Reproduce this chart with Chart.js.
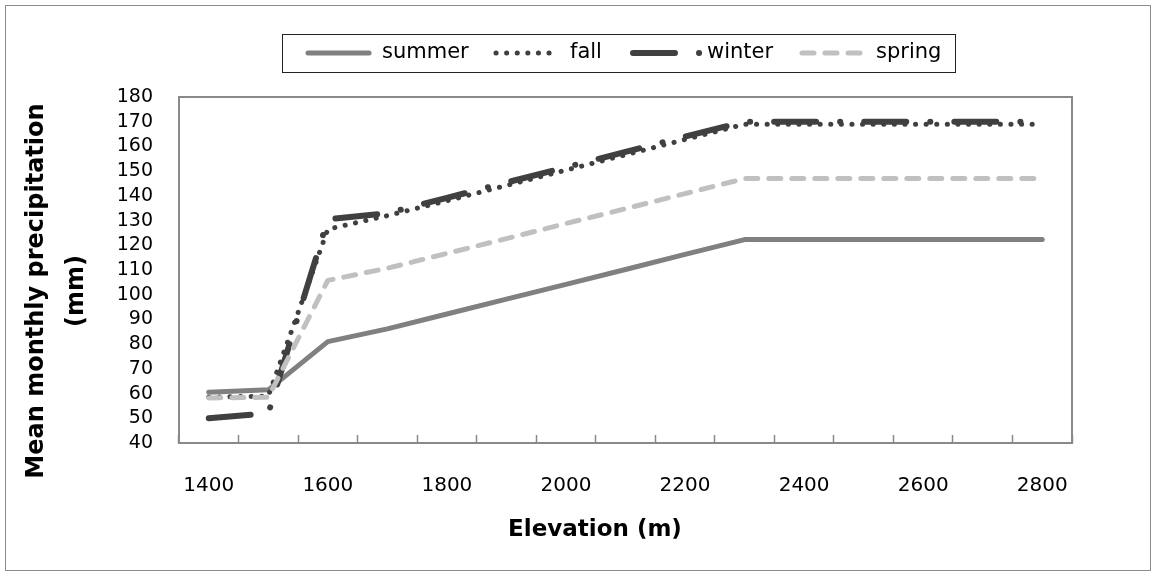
<!DOCTYPE html>
<html>
<head>
<meta charset="utf-8">
<script src="https://cdn.jsdelivr.net/npm/chart.js@4.4.1/dist/chart.umd.min.js"></script>
<style>
    html, body { margin: 0; padding: 0; background: #fff; }
    canvas { display: block; }
</style>
</head>
<body>
<canvas id="chart" width="1157" height="577"></canvas>
<script>
// elevation classes (x categories), only every second one gets a label
const elevations = [1400, 1500, 1600, 1700, 1800, 1900, 2000, 2100, 2200, 2300, 2400, 2500, 2600, 2700, 2800];

// mean monthly precipitation (mm)
const summer = [60.5, 61.5, 81, 86.2, 92.2, 98.2, 104.2, 110.2, 116.3, 122.3, 122.3, 122.3, 122.3, 122.3, 122.3];
const fall   = [58.5, 59, 126.5, 132, 138, 144.2, 150.4, 156.6, 162.8, 169, 169, 169, 169, 169, 169];
const winter = [50, 52, 130.5, 133, 139.2, 145.4, 151.6, 157.8, 164, 170, 170, 170, 170, 170, 170];
const spring = [58.2, 58.5, 105.8, 110.7, 116.7, 122.7, 128.8, 134.8, 140.9, 147, 147, 147, 147, 147, 147];

const seriesNames = ["summer", "fall", "winter", "spring"];

const xTitle = "Elevation (m)";
const yTitleLines = ["Mean monthly precipitation", "(mm)"];

// background, outer frame, plot box, axis titles and the boxed legend
const chartDecor = {
    id: "chartDecor",
    beforeDraw(chart) {
        const ctx = chart.ctx;
        ctx.save();
        ctx.fillStyle = "#ffffff";
        ctx.fillRect(0, 0, chart.width, chart.height);
        ctx.strokeStyle = "#8c8c8c";
        ctx.lineWidth = 1;
        ctx.strokeRect(5.5, 5.5, 1145, 565);
        ctx.restore();
    },
    beforeDatasetsDraw(chart) {
        const ctx = chart.ctx;
        const a = chart.chartArea;
        ctx.save();
        ctx.strokeStyle = "#898989";
        ctx.lineWidth = 2;
        ctx.strokeRect(a.left, a.top, a.right - a.left, a.bottom - a.top);
        ctx.restore();
    },
    afterDraw(chart) {
        const ctx = chart.ctx;
        ctx.save();

        // axis titles
        ctx.fillStyle = "#000";
        ctx.textAlign = "center";
        ctx.textBaseline = "middle";
        ctx.font = "bold 23px 'DejaVu Sans'";
        ctx.fillText(xTitle, 595, 530);

        ctx.font = "bold 24px 'DejaVu Sans'";
        const yTitleX = [37, 77];
        yTitleLines.forEach((line, i) => {
            ctx.save();
            ctx.translate(yTitleX[i], 291);
            ctx.rotate(-Math.PI / 2);
            ctx.fillText(line, 0, 0);
            ctx.restore();
        });

        // legend box
        ctx.strokeStyle = "#222";
        ctx.lineWidth = 1;
        ctx.strokeRect(282.5, 34.5, 673, 38);

        const starts = [305, 493, 630, 799];
        const sampleLen = [64, 64, 70, 64];
        const midY = 53;
        ctx.font = "21px 'DejaVu Sans'";
        ctx.textAlign = "left";
        seriesNames.forEach((name, i) => {
            const ds = chart.data.datasets.find(d => d.label === name);
            const x0 = starts[i];
            ctx.save();
            ctx.strokeStyle = ds.borderColor;
            ctx.lineWidth = ds.borderWidth;
            ctx.lineCap = ds.borderCapStyle || "butt";
            ctx.setLineDash(ds.borderDash || []);
            ctx.beginPath();
            ctx.moveTo(x0 + 3, midY);
            ctx.lineTo(x0 + sampleLen[i], midY);
            ctx.stroke();
            ctx.restore();
            ctx.fillStyle = "#000";
            ctx.fillText(name, x0 + 77, midY);
        });

        ctx.restore();
    }
};

const ctx = document.getElementById("chart").getContext("2d");
new Chart(ctx, {
    type: "line",
    data: {
        labels: elevations,
        datasets: [
            {
                label: "summer",
                data: summer,
                borderColor: "#808080",
                borderWidth: 5,
                borderCapStyle: "round",
                borderJoinStyle: "round",
                order: 3,
            },
            {
                label: "fall",
                data: fall,
                borderColor: "#404040",
                borderWidth: 5,
                borderCapStyle: "round",
                borderDash: [0.1, 10.5],
                order: 2,
            },
            {
                label: "winter",
                data: winter,
                borderColor: "#404040",
                borderWidth: 6,
                borderCapStyle: "round",
                borderJoinStyle: "round",
                borderDash: [42, 24, 0.1, 24],
                order: 1,
            },
            {
                label: "spring",
                data: spring,
                borderColor: "#c0c0c0",
                borderWidth: 5,
                borderCapStyle: "round",
                borderJoinStyle: "round",
                borderDash: [12, 11],
                order: 0,
            },
        ],
    },
    options: {
        responsive: false,
        animation: false,
        devicePixelRatio: 1,
        layout: {
            padding: { left: 0, top: 97, right: 85, bottom: 74 },
        },
        elements: {
            point: { radius: 0, hoverRadius: 0 },
            line: { tension: 0, fill: false },
        },
        plugins: {
            legend: { display: false },
            tooltip: { enabled: false },
        },
        scales: {
            x: {
                type: "category",
                offset: true,
                border: { display: false },
                grid: {
                    offset: true,
                    drawOnChartArea: false,
                    drawTicks: true,
                    tickLength: -8,
                    tickColor: "#898989",
                    tickWidth: 1.5,
                },
                ticks: {
                    autoSkip: false,
                    maxRotation: 0,
                    padding: 39,
                    color: "#000",
                    font: { family: "'DejaVu Sans'", size: 20 },
                    callback: (value, index) => (index % 2 === 0 ? String(elevations[index]) : ""),
                },
                afterFit: (scale) => { scale.height = 60; },
            },
            y: {
                min: 40,
                max: 180,
                border: { display: false },
                grid: { display: false, drawTicks: false },
                ticks: {
                    stepSize: 10,
                    autoSkip: false,
                    padding: 26,
                    color: "#000",
                    font: { family: "'DejaVu Sans'", size: 19 },
                },
                afterFit: (scale) => { scale.width = 179; },
            },
        },
    },
    plugins: [chartDecor],
});
</script>
</body>
</html>
